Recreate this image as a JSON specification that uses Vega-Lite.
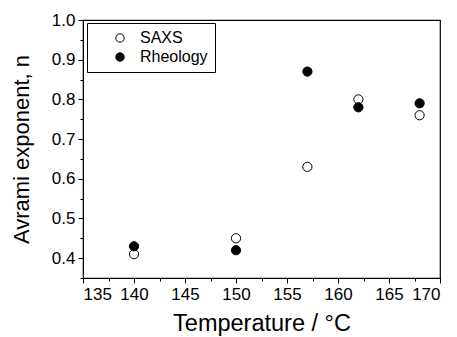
{
  "$schema": "https://vega.github.io/schema/vega-lite/v6.json",
  "autosize": "none",
  "width": 357,
  "height": 258,
  "padding": {"left": 83, "top": 20, "right": 17, "bottom": 59},
  "background": "white",
  "config": {
    "view": {"stroke": "black", "strokeWidth": 1.2},
    "font": "Liberation Sans",
    "axis": {"domainColor": "black", "tickColor": "black", "labelColor": "black", "titleColor": "black", "grid": false, "titleFontWeight": "normal"}
  },
  "data": {
    "values": [
      {"T": 140, "n": 0.41, "series": "SAXS"},
      {"T": 150, "n": 0.45, "series": "SAXS"},
      {"T": 157, "n": 0.63, "series": "SAXS"},
      {"T": 162, "n": 0.80, "series": "SAXS"},
      {"T": 168, "n": 0.76, "series": "SAXS"},
      {"T": 140, "n": 0.43, "series": "Rheology"},
      {"T": 150, "n": 0.42, "series": "Rheology"},
      {"T": 157, "n": 0.87, "series": "Rheology"},
      {"T": 162, "n": 0.78, "series": "Rheology"},
      {"T": 168, "n": 0.79, "series": "Rheology"}
    ]
  },
  "resolve": {"axis": {"x": "independent", "y": "independent"}},
  "layer": [
    {
      "mark": {"type": "point", "filled": false, "opacity": 0, "size": 1},
      "encoding": {
        "x": {"field": "T", "type": "quantitative", "scale": {"domain": [135, 170], "nice": false, "zero": false},
          "axis": {"orient": "bottom", "values": [137.5, 142.5, 147.5, 152.5, 157.5, 162.5, 167.5], "labels": false, "domain": false, "tickSize": 3, "title": null}},
        "y": {"field": "n", "type": "quantitative", "scale": {"domain": [0.35, 1.0], "nice": false, "zero": false},
          "axis": {"orient": "left", "values": [0.35, 0.45, 0.55, 0.65, 0.75, 0.85, 0.95], "labels": false, "domain": false, "tickSize": 3, "title": null}}
      }
    },
    {
      "mark": {"type": "point", "filled": true, "stroke": "black", "strokeWidth": 1, "size": 85, "opacity": 1},
      "encoding": {
        "x": {"field": "T", "type": "quantitative", "scale": {"domain": [135, 170], "nice": false, "zero": false},
          "axis": {"orient": "bottom", "values": [135, 140, 145, 150, 155, 160, 165, 170], "tickSize": 5, "labelFontSize": 17, "labelPadding": 3, "title": "Temperature / °C", "titleFontSize": 23.5, "titlePadding": 9}},
        "y": {"field": "n", "type": "quantitative", "scale": {"domain": [0.35, 1.0], "nice": false, "zero": false},
          "axis": {"orient": "left", "values": [0.4, 0.5, 0.6, 0.7, 0.8, 0.9, 1.0], "format": ".1f", "tickSize": 5, "labelFontSize": 17, "labelPadding": 3, "title": "Avrami exponent, n", "titleFontSize": 22, "titlePadding": 18}},
        "fill": {"field": "series", "type": "nominal", "scale": {"domain": ["SAXS", "Rheology"], "range": ["white", "black"]},
          "legend": {"orient": "none", "legendX": 4, "legendY": 3, "title": null, "strokeColor": "black", "fillColor": "white", "padding": 7, "symbolOffset": 18, "labelFontSize": 16, "symbolSize": 70, "symbolStrokeColor": "black", "symbolStrokeWidth": 1, "symbolType": "circle", "rowPadding": 3, "labelOffset": 12, "labelColor": "black"}}
      }
    }
  ]
}
